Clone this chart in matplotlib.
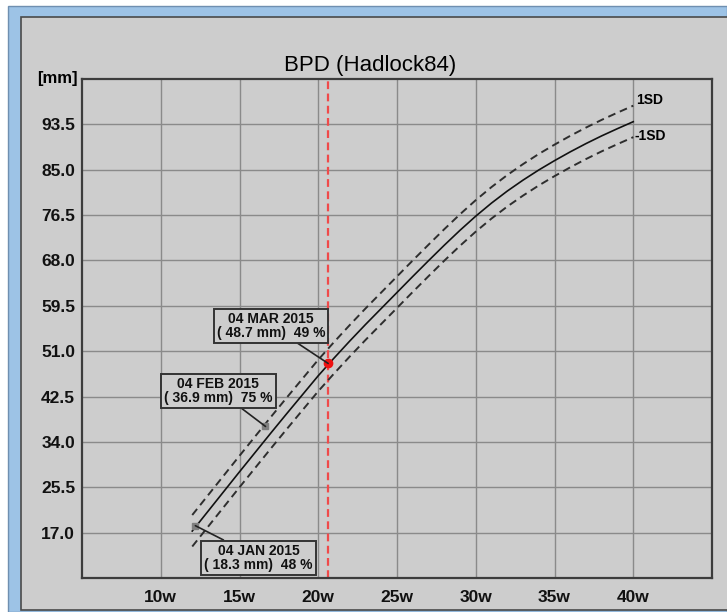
"""BPD (Hadlock84) growth chart, ultrasound-report style."""

import matplotlib

matplotlib.use("Agg")
import matplotlib.pyplot as plt  # noqa: E402
from matplotlib.patches import Rectangle  # noqa: E402

plt.rcParams["font.family"] = ["Liberation Sans", "DejaVu Sans"]

# reference curve (weeks -> mm)
weeks = list(range(12, 41))
mean_mm = [17.3, 21.0, 24.7, 28.4, 32.05, 35.7, 39.3, 42.85, 46.4, 49.7,
           52.9, 56.0, 59.0, 62.0, 65.0, 67.95, 70.85, 73.65, 76.3, 78.75,
           81.0, 83.05, 84.95, 86.7, 88.35, 89.9, 91.35, 92.7, 94.0]
upper_mm = [20.3, 24.0, 27.7, 31.4, 35.05, 38.7, 42.3, 45.85, 49.4, 52.7,
            55.9, 59.0, 62.0, 65.0, 68.0, 70.95, 73.85, 76.65, 79.3, 81.75,
            84.0, 86.05, 87.95, 89.7, 91.35, 92.9, 94.35, 95.7, 97.0]
lower_mm = [14.4, 18.1, 21.8, 25.5, 29.15, 32.8, 36.4, 39.95, 43.5, 46.8,
            50.0, 53.1, 56.1, 59.1, 62.1, 65.05, 67.95, 70.75, 73.4, 75.85,
            78.1, 80.15, 82.05, 83.8, 85.45, 87.0, 88.45, 89.8, 91.1]

# exam measurements
exam_dates = ["04 JAN 2015", "04 FEB 2015", "04 MAR 2015"]
exam_ga = [12.2, 16.65, 20.63]
exam_mm = [18.3, 36.9, 48.7]
exam_pct = [48, 75, 49]
current_ga = 20.63

x_ticks = [10, 15, 20, 25, 30, 35, 40]
y_ticks = [17.0, 25.5, 34.0, 42.5, 51.0, 59.5, 68.0, 76.5, 85.0, 93.5]

W, H = 727, 612
GREY = "#cdcdcd"

fig = plt.figure(figsize=(W / 100, H / 100), dpi=100, facecolor="white")


def px_rect(x0, y0, x1, y1, **kw):
    # rectangle in pixel coords, y measured from the top
    fig.add_artist(Rectangle((x0 / W, 1 - y1 / H), (x1 - x0) / W, (y1 - y0) / H,
                             transform=fig.transFigure, zorder=-10, **kw))


px_rect(8, 6, W, H, facecolor="#9dc3e6", edgecolor="#6f8fb0", linewidth=1)
px_rect(21, 17, W + 5, 610, facecolor=GREY, edgecolor="#4a4a4a", linewidth=1.2)

ax = fig.add_axes([82 / W, 1 - 578 / H, 630 / W, 499 / H])
ax.set_facecolor(GREY)
ax.set_xlim(5, 45)
ax.set_ylim(8.5, 102)
ax.set_xticks(x_ticks)
ax.set_xticklabels([f"{w}w" for w in x_ticks])
ax.set_yticks(y_ticks)
ax.set_yticklabels([f"{v:.1f}" for v in y_ticks])
ax.tick_params(length=0, labelsize=12.5, pad=5, colors="#111111")
for lab in ax.get_xticklabels() + ax.get_yticklabels():
    lab.set_fontweight("bold")
ax.tick_params(axis="x", pad=9)
ax.grid(True, color="#8a8a8a", linewidth=1)
ax.set_axisbelow(True)
for sp in ax.spines.values():
    sp.set_color("#3c3c3c")
    sp.set_linewidth(1.6)

ax.axvline(current_ga, color="#f04a4a", linestyle=(0, (3.5, 2)), linewidth=1.6, zorder=2)

ax.plot(weeks, mean_mm, color="#111111", linewidth=1.2, zorder=3)
ax.plot(weeks, upper_mm, color="#2e2e2e", linewidth=1.4, linestyle=(0, (4, 2.5)), zorder=3)
ax.plot(weeks, lower_mm, color="#2e2e2e", linewidth=1.4, linestyle=(0, (4, 2.5)), zorder=3)

ax.text(weeks[-1] + 0.2, upper_mm[-1] + 1.0, "1SD", fontsize=10, fontweight="bold",
        va="center", ha="left")
ax.text(weeks[-1] + 0.1, lower_mm[-1] + 0.2, "-1SD", fontsize=10, fontweight="bold",
        va="center", ha="left")

# label box centres (data coords) for each exam
box_xy = [(16.2, 12.3), (13.65, 43.6), (17.0, 55.8)]
for i in range(len(exam_dates)):
    last = i == len(exam_dates) - 1
    ax.plot(exam_ga[i], exam_mm[i], marker="o" if last else "s",
            markersize=6 if last else 5,
            color="#ee1111" if last else "#7f7f7f", zorder=5)
    ax.annotate(f"{exam_dates[i]}\n( {exam_mm[i]:.1f} mm)  {exam_pct[i]} %",
                xy=(exam_ga[i], exam_mm[i]), xytext=box_xy[i],
                ha="center", va="center", fontsize=10, fontweight="bold",
                linespacing=1.0, color="#111111",
                bbox=dict(boxstyle="square,pad=0.22", facecolor=GREY,
                          edgecolor="#333333", linewidth=1.4),
                arrowprops=dict(arrowstyle="-", color="#222222", linewidth=1.2,
                                shrinkA=0, shrinkB=0),
                zorder=6)

fig.text(370 / W, 1 - 65 / H, "BPD (Hadlock84)", fontsize=16, ha="center", va="center")
fig.text(78 / W, 1 - 78 / H, "[mm]", fontsize=12, fontweight="bold", ha="right", va="center")

fig.savefig("out.png", dpi=100, facecolor=fig.get_facecolor())
